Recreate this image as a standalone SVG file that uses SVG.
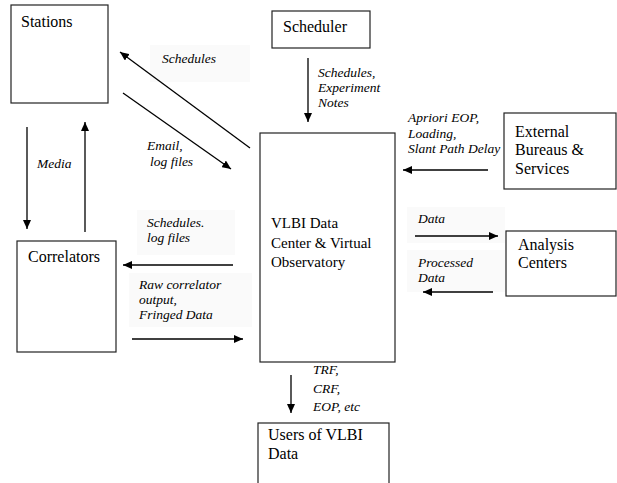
<svg xmlns="http://www.w3.org/2000/svg" width="617" height="483" viewBox="0 0 617 483" font-family="Liberation Serif, Times New Roman, serif">
<style>
.box{fill:#fff;stroke:#222;stroke-width:1.2}
.nt{font-size:16px;fill:#000}
.lb{font-size:13.5px;font-style:italic;fill:#000}
.bg{fill:#fafafa;stroke:none}
.ar{stroke:#000;stroke-width:1.3;fill:none;marker-end:url(#ah)}
</style>
<defs>
<marker id="ah" markerUnits="userSpaceOnUse" markerWidth="10" markerHeight="8" refX="9" refY="4" orient="auto">
<path d="M0,0 L9,4 L0,8 Z" fill="#000"/>
</marker>
</defs>
<rect width="617" height="483" fill="#fff"/>
<g id="label-backgrounds">
<rect class="bg" x="150" y="45" width="100" height="37"/>
<rect class="bg" x="137" y="210" width="98" height="45"/>
<rect class="bg" x="129" y="273" width="123" height="54"/>
<rect class="bg" x="407" y="207" width="98" height="36"/>
<rect class="bg" x="407" y="250" width="98" height="42"/>
</g>
<g id="stations">
<rect class="box" x="11" y="5" width="97" height="98"/>
<text class="nt" x="21" y="27">Stations</text>
</g>
<g id="scheduler">
<rect class="box" x="272" y="11" width="98" height="37"/>
<text class="nt" x="283" y="32">Scheduler</text>
</g>
<g id="vlbi">
<rect class="box" x="260" y="133" width="135" height="229"/>
<text class="nt" style="font-size:15px" x="271" y="228">VLBI Data</text>
<text class="nt" style="font-size:15px" x="271" y="248">Center &amp; Virtual</text>
<text class="nt" style="font-size:15px" x="271" y="267">Observatory</text>
</g>
<g id="external">
<rect class="box" x="504" y="113" width="112" height="76"/>
<text class="nt" x="515" y="137">External</text>
<text class="nt" x="515" y="155">Bureaus &amp;</text>
<text class="nt" x="515" y="174">Services</text>
</g>
<g id="analysis">
<rect class="box" x="506" y="231" width="110" height="65"/>
<text class="nt" x="518" y="250">Analysis</text>
<text class="nt" x="518" y="268">Centers</text>
</g>
<g id="correlators">
<rect class="box" x="17" y="241" width="99" height="111"/>
<text class="nt" x="28" y="262">Correlators</text>
</g>
<g id="users">
<rect class="box" x="258" y="423" width="131" height="70"/>
<text class="nt" x="268" y="440">Users of VLBI</text>
<text class="nt" x="268" y="459">Data</text>
</g>
<g id="connectors">
<line class="ar" x1="308" y1="58" x2="308" y2="122"/>
<line class="ar" x1="250" y1="148" x2="120" y2="52"/>
<line class="ar" x1="123" y1="93" x2="231" y2="169"/>
<line class="ar" x1="27" y1="127" x2="27" y2="229"/>
<line class="ar" x1="85" y1="232" x2="85" y2="122"/>
<line class="ar" x1="233" y1="265" x2="123" y2="265"/>
<line class="ar" x1="132" y1="339" x2="243" y2="339"/>
<line class="ar" x1="488" y1="170" x2="403" y2="170"/>
<line class="ar" x1="415" y1="236" x2="498" y2="236"/>
<line class="ar" x1="493" y1="292" x2="423" y2="292"/>
<line class="ar" x1="291" y1="375" x2="291" y2="413"/>
</g>
<g id="labels">
<text class="lb" x="162" y="63">Schedules</text>
<text class="lb" x="147" y="150">Email,</text>
<text class="lb" x="150" y="166">log files</text>
<text class="lb" x="37" y="168">Media</text>
<text class="lb" x="318" y="77">Schedules,</text>
<text class="lb" x="318" y="92">Experiment</text>
<text class="lb" x="318" y="107">Notes</text>
<text class="lb" x="408" y="122">Apriori EOP,</text>
<text class="lb" x="408" y="138">Loading,</text>
<text class="lb" x="408" y="153">Slant Path Delay</text>
<text class="lb" x="147" y="227">Schedules.</text>
<text class="lb" x="147" y="242">log files</text>
<text class="lb" x="139" y="289">Raw correlator</text>
<text class="lb" x="139" y="304">output,</text>
<text class="lb" x="139" y="319">Fringed Data</text>
<text class="lb" x="418" y="223">Data</text>
<text class="lb" x="418" y="267">Processed</text>
<text class="lb" x="418" y="282">Data</text>
<text class="lb" x="313" y="374">TRF,</text>
<text class="lb" x="313" y="393">CRF,</text>
<text class="lb" x="313" y="411">EOP, etc</text>
</g>
</svg>
